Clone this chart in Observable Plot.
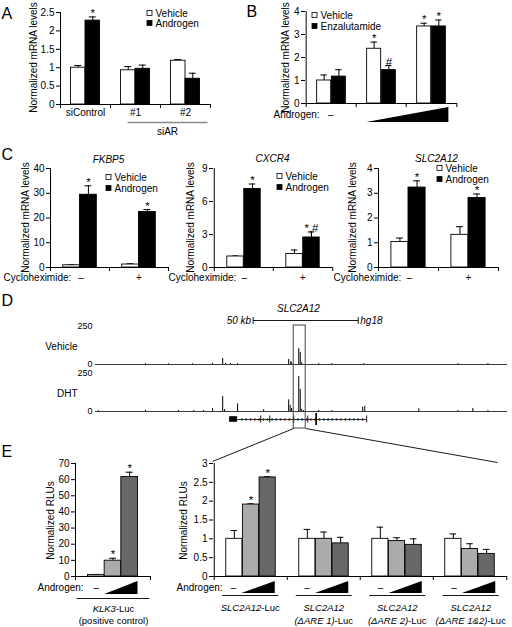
<!DOCTYPE html>
<html><head><meta charset="utf-8">
<script src="https://cdn.jsdelivr.net/npm/d3@7"></script>
<script src="https://cdn.jsdelivr.net/npm/@observablehq/plot@0.6"></script>
<style>
html,body{margin:0;padding:0;background:#fff;}
#fig{position:relative;width:512px;height:627px;overflow:hidden;background:#fff;}
#fig svg{position:absolute;left:0;top:0;}
</style></head><body><div id="fig"></div>
<script>
const FONT = '"Liberation Sans", Arial, Helvetica, sans-serif';
const W = 512, H = 627;

// ---------------- Panel A ----------------
const aGroups = ["siControl", "#1", "#2"];
const aVehicle = [1.0, 0.93, 1.19];
const aVehicleErr = [0.06, 0.1, 0.03];
const aAndrogen = [2.28, 0.97, 0.7];
const aAndrogenErr = [0.1, 0.1, 0.15];
const aAndrogenSig = ["*", "", ""];
const aTicks = [0, 0.5, 1, 1.5, 2, 2.5];

// ---------------- Panel B ----------------
const bGroups = ["none", "low", "high"];
const bVehicle = [1.0, 2.38, 3.35];
const bVehicleErr = [0.24, 0.29, 0.14];
const bVehicleSig = ["", "*", "*"];
const bEnza = [1.17, 1.45, 3.35];
const bEnzaErr = [0.3, 0.2, 0.28];
const bEnzaSig = ["", "#", "*"];
const bTicks = [0, 1, 2, 3, 4];

// ---------------- Panel C ----------------
const cGroups = ["–", "+"];
const fkbp5Vehicle = [0.9, 1.2];
const fkbp5VehicleErr = [0.2, 0.3];
const fkbp5Androgen = [29.4, 22.4];
const fkbp5AndrogenErr = [3.6, 1.0];
const fkbp5Sig = ["*", "*"];
const fkbp5Ticks = [0, 10, 20, 30, 40];
const cxcr4Vehicle = [1.0, 1.23];
const cxcr4VehicleErr = [0.05, 0.36];
const cxcr4Androgen = [7.14, 2.73];
const cxcr4AndrogenErr = [0.45, 0.5];
const cxcr4Sig = ["*", "*,#"];
const cxcr4Ticks = [0, 3, 6, 9];
const slcVehicle = [1.03, 1.32];
const slcVehicleErr = [0.16, 0.33];
const slcAndrogen = [3.23, 2.81];
const slcAndrogenErr = [0.27, 0.16];
const slcSig = ["*", "*"];
const slcTicks = [0, 1, 2, 3, 4];

// ---------------- Panel D ----------------
const kbDomain = [0, 196];
const vehPeakPos = [23.8, 34.8, 46.2, 55.7, 60.5, 61.9, 64.3, 67.6, 91.9, 92.9, 93.3, 96.7, 97.4, 98.1, 106.2, 112.4, 127.6, 172.4, 186.7];
const vehPeakH   = [6, 5, 5, 8, 40, 8, 6, 6, 33, 20, 10, 105, 80, 12, 6, 6, 6, 6, 6];
const dhtPeakPos = [1.4, 23.8, 39.5, 46.7, 51.4, 55.7, 60.5, 61.4, 67.6, 80.0, 91.9, 92.6, 93.3, 96.7, 97.4, 98.1, 99.0, 106.2, 112.4, 127.1, 128.1, 153.8, 172.4, 179.5, 186.7];
const dhtPeakH   = [5, 8, 6, 6, 6, 18, 98, 12, 50, 12, 77, 40, 20, 230, 145, 14, 6, 6, 6, 28, 33, 18, 6, 20, 6];
const trackTicks = [0, 250];
const geneUTR = [63.8, 67.6];
const geneSpan = [67.6, 129.0];
const geneExons = [78.6, 82.9, 94.3, 101.0, 129.0];
const geneCodingExon = [104.8, 105.6];
const highlightKb = [94.3, 100.0];
const scaleBarKb = [75, 125];

// ---------------- Panel E ----------------
const klk3Values = [1.0, 9.8, 61.6];
const klk3Err = [0.2, 1.5, 3.0];
const klk3Sig = ["", "*", "*"];
const eLeftTicks = [0, 10, 20, 30, 40, 50, 60, 70];
const constructs = ["SLC2A12-Luc", "dARE1", "dARE2", "dARE12"];
const dose0 = [1.0, 1.0, 1.0, 1.0];
const dose0Err = [0.22, 0.25, 0.31, 0.13];
const dose1 = [1.91, 1.0, 0.94, 0.73];
const dose1Err = [0.02, 0.18, 0.09, 0.14];
const dose2 = [2.63, 0.88, 0.84, 0.6];
const dose2Err = [0.02, 0.16, 0.16, 0.12];
const dose1Sig = ["*", "", "", ""];
const dose2Sig = ["*", "", "", ""];
const eRightTicks = [0, 0.5, 1, 1.5, 2, 2.5, 3];

// ---------------- helpers ----------------
const fig = document.getElementById("fig");
const baseStyle = {fontFamily: FONT, fontSize: "10px", background: "transparent", color: "black", overflow: "visible"};

function barPanel(L, groups, series, yDomain, yTicks, groupLabels = false) {
  const {x0, x1, yTop, yBottom, p} = L;
  const n = groups.length, ns = series.length;
  const step = (x1 - x0) / n;
  const slot = step * p / ns;
  const start = step * (0.5 - p / 2);
  const upp = (yDomain[1] - yDomain[0]) / (yBottom - yTop);
  const marks = [];
  series.forEach((s, i) => {
    const rows = groups.map((g, j) => ({group: g, value: s.values[j], top: s.values[j] + s.errs[j], mark: s.sig ? s.sig[j] : ""}));
    const left = start + i * slot, right = start + (i + 1) * slot, c = (left + right) / 2;
    marks.push(Plot.ruleX(rows, {x: "group", y1: "value", y2: "top", dx: c - step / 2, stroke: "black", strokeWidth: 1}));
    marks.push(Plot.tickY(rows, {x: "group", y: "top", insetLeft: c - 3.5, insetRight: step - c - 3.5, stroke: "black", strokeWidth: 1}));
    marks.push(Plot.barY(rows, {x: "group", y: "value", fill: s.fill, stroke: "black", strokeWidth: 0.9, insetLeft: left, insetRight: step - right}));
    const sig = rows.filter(r => r.mark);
    if (sig.length) marks.push(Plot.text(sig, {x: "group", y: "top", text: "mark", dx: c - step / 2, dy: 0, lineAnchor: "bottom", fontSize: 11.5, fill: "black"}));
  });
  marks.push(Plot.ruleY([yDomain[0]], {stroke: "black"}));
  marks.push(Plot.ruleX([groups[0]], {dx: -step / 2, stroke: "black"}));
  marks.push(Plot.ruleX(groups, {x: d => d, dx: -step / 2, y1: yDomain[0], y2: yDomain[0] - 4 * upp, stroke: "black"}));
  marks.push(Plot.ruleX([groups[n - 1]], {dx: step / 2, y1: yDomain[0], y2: yDomain[0] - 4 * upp, stroke: "black"}));
  fig.appendChild(Plot.plot({
    width: W, height: H, marginLeft: x0, marginRight: W - x1, marginTop: yTop, marginBottom: H - yBottom,
    style: baseStyle,
    x: {type: "band", domain: groups, padding: 0, axis: groupLabels ? "bottom" : null, tickSize: 0, tickPadding: 4, label: null},
    y: {domain: yDomain, ticks: yTicks, tickSize: 4, tickPadding: 2, tickFormat: d => String(d), label: null},
    marks
  }));
  return {
    center: j => x0 + step * j + step / 2,
    barLeft: (j, i) => x0 + step * j + start + i * slot,
    barRight: (j, i) => x0 + step * j + start + (i + 1) * slot,
    barCenter: (j, i) => x0 + step * j + start + (i + 0.5) * slot
  };
}

// ---------------- layouts ----------------
const LA = {x0: 60, x1: 210, yTop: 12, yBottom: 104, p: 0.58};
const LB = {x0: 305, x1: 457, yTop: 11, yBottom: 103, p: 0.58};
const LC1 = {x0: 50, x1: 168, yTop: 168, yBottom: 267, p: 0.57};
const LC2 = {x0: 213, x1: 332, yTop: 168, yBottom: 267, p: 0.57};
const LC3 = {x0: 378, x1: 498, yTop: 168, yBottom: 267, p: 0.57};
const LEL = {x0: 75, x1: 150, yTop: 463, yBottom: 576, p: 0.667};
const LER = {x0: 213, x1: 507, yTop: 463, yBottom: 576, p: 0.68};
const trackX0 = 95, trackX1 = 507;
const kb = d3.scaleLinear().domain(kbDomain).range([trackX0, trackX1]);

const gA = barPanel(LA, aGroups, [
  {values: aVehicle, errs: aVehicleErr, fill: "white"},
  {values: aAndrogen, errs: aAndrogenErr, fill: "black", sig: aAndrogenSig}
], [0, 2.5], aTicks, true);
const gB = barPanel(LB, bGroups, [
  {values: bVehicle, errs: bVehicleErr, fill: "white", sig: bVehicleSig},
  {values: bEnza, errs: bEnzaErr, fill: "black", sig: bEnzaSig}
], [0, 4], bTicks);
const gC1 = barPanel(LC1, cGroups, [
  {values: fkbp5Vehicle, errs: fkbp5VehicleErr, fill: "white"},
  {values: fkbp5Androgen, errs: fkbp5AndrogenErr, fill: "black", sig: fkbp5Sig}
], [0, 40], fkbp5Ticks);
const gC2 = barPanel(LC2, cGroups, [
  {values: cxcr4Vehicle, errs: cxcr4VehicleErr, fill: "white"},
  {values: cxcr4Androgen, errs: cxcr4AndrogenErr, fill: "black", sig: cxcr4Sig}
], [0, 9], cxcr4Ticks);
const gC3 = barPanel(LC3, cGroups, [
  {values: slcVehicle, errs: slcVehicleErr, fill: "white"},
  {values: slcAndrogen, errs: slcAndrogenErr, fill: "black", sig: slcSig}
], [0, 4], slcTicks);
const gEL = barPanel(LEL, ["KLK3"], [
  {values: [klk3Values[0]], errs: [klk3Err[0]], fill: "white", sig: [klk3Sig[0]]},
  {values: [klk3Values[1]], errs: [klk3Err[1]], fill: "#ababab", sig: [klk3Sig[1]]},
  {values: [klk3Values[2]], errs: [klk3Err[2]], fill: "#686868", sig: [klk3Sig[2]]}
], [0, 70], eLeftTicks);
const gER = barPanel(LER, constructs, [
  {values: dose0, errs: dose0Err, fill: "white"},
  {values: dose1, errs: dose1Err, fill: "#ababab", sig: dose1Sig},
  {values: dose2, errs: dose2Err, fill: "#686868", sig: dose2Sig}
], [0, 3], eRightTicks);

// ---------------- Panel D tracks ----------------
function track(pos, h, yTop, yBottom) {
  const peaks = pos.map((x, i) => ({pos: x, h: h[i]}));
  fig.appendChild(Plot.plot({
    width: W, height: H, marginLeft: trackX0, marginRight: W - trackX1, marginTop: yTop, marginBottom: H - yBottom,
    style: {...baseStyle, fontSize: "9px"},
    x: {domain: kbDomain, axis: null},
    y: {domain: [0, 250], ticks: trackTicks, tickSize: 0, tickPadding: 3, label: null},
    marks: [
      Plot.ruleY([0], {stroke: "#222", strokeWidth: 0.9}),
      Plot.ruleX(peaks, {x: "pos", y1: 0, y2: "h", stroke: "black", strokeWidth: 1})
    ]
  }));
}
track(vehPeakPos, vehPeakH, 326, 364);
track(dhtPeakPos, dhtPeakH, 373, 411);

const chevrons = d3.range(69.5, 128.5, 2.05);
fig.appendChild(Plot.plot({
  width: W, height: H, marginLeft: trackX0, marginRight: W - trackX1, marginTop: 414, marginBottom: H - 424,
  style: baseStyle,
  x: {domain: kbDomain, axis: null},
  y: {domain: [0, 1], axis: null},
  marks: [
    Plot.ruleY([0.5], {x1: geneSpan[0], x2: geneSpan[1], stroke: "black", strokeWidth: 0.8}),
    Plot.text(chevrons, {x: d => d, y: 0.5, text: () => "‹", fontSize: 8, fill: "black"}),
    Plot.rect([geneUTR], {x1: d => d[0], x2: d => d[1], y1: 0.22, y2: 0.78, fill: "black"}),
    Plot.ruleX(geneExons, {x: d => d, y1: 0.15, y2: 0.85, stroke: "black", strokeWidth: 0.9}),
    Plot.rect([geneCodingExon], {x1: d => d[0], x2: d => d[1], y1: -0.1, y2: 1.1, fill: "black"})
  ]
}));

// ---------------- Overlay: labels & decorations ----------------
const ctx = document.createElement("canvas").getContext("2d");
function textWidth(s, size, italic) { ctx.font = `${italic ? "italic " : ""}${size}px "Liberation Sans"`; return ctx.measureText(s).width; }
const T = [];
function t(x, y, text, o = {}) { T.push({x, y, text, size: o.size ?? 10, anchor: o.anchor ?? "start", italic: !!o.italic, rotate: o.rotate ?? 0}); }
function mixed(cx, y, parts, size) {
  const ws = parts.map(([s, it]) => textWidth(s, size, it));
  let x = cx - d3.sum(ws) / 2;
  parts.forEach(([s, it], i) => { t(x, y, s, {size, italic: it}); x += ws[i]; });
}
const rects = [], links = [], grayLinks = [], tris = [];
function legend(x, ys, labels, fills) {
  ys.forEach((y, i) => {
    rects.push({x1: x, x2: x + 5, y1: y - 2.5, y2: y + 2.5, fill: fills[i]});
    t(x + 8, y, labels[i]);
  });
}
function tri(id, xl, xr, yb, yt) { tris.push({id, x: xl, yb, yt: yb}, {id, x: xr, yb, yt}); }

// panel letters
t(1, 13, "A", {size: 16}); t(246, 11, "B", {size: 16}); t(1, 154, "C", {size: 16});
t(1, 300, "D", {size: 16}); t(1, 451, "E", {size: 16});

// y titles
const mrna = "Normalized mRNA levels";
t(33, 57, mrna, {anchor: "middle", rotate: -90});
t(285, 57, mrna, {anchor: "middle", rotate: -90});
t(25, 217, mrna, {anchor: "middle", rotate: -90});
t(190, 217, mrna, {anchor: "middle", rotate: -90});
t(352, 217, mrna, {anchor: "middle", rotate: -90});
t(50, 520, "Normalized RLUs", {anchor: "middle", rotate: -90});
t(183, 520, "Normalized RLUs", {anchor: "middle", rotate: -90});

// legends
legend(147, [13, 23], ["Vehicle", "Androgen"], ["white", "black"]);
legend(312, [15, 26], ["Vehicle", "Enzalutamide"], ["white", "black"]);
legend(106, [177, 188], ["Vehicle", "Androgen"], ["white", "black"]);
legend(277, [176, 187], ["Vehicle", "Androgen"], ["white", "black"]);
legend(437, [168, 179], ["Vehicle", "Androgen"], ["white", "black"]);

// panel A siAR
grayLinks.push({x1: 127, y1: 122, x2: 207, y2: 122});
t(167, 131, "siAR", {anchor: "middle"});

// panel B androgen
t(273, 114, "Androgen:", {size: 10});
t(gB.center(0), 114, "–", {anchor: "middle"});
tri("B", gB.barLeft(1, 0), gB.barRight(2, 1) + 2, 122, 107);

// panel C
t(108, 159, "FKBP5", {anchor: "middle", italic: true});
t(272, 158, "CXCR4", {anchor: "middle", italic: true});
t(436, 158, "SLC2A12", {anchor: "middle", italic: true});
[[3, gC1], [168, gC2], [333, gC3]].forEach(([x, g]) => {
  t(x, 277, "Cycloheximide:", {size: 10});
  t(g.center(0) + 1, 277, "–", {anchor: "middle"});
  t(g.center(1), 277, "+", {anchor: "middle"});
});

// panel D
t(298, 308, "SLC2A12", {anchor: "middle", italic: true});
t(kb(scaleBarKb[0]) - 2, 320, "50 kb", {anchor: "end", italic: true});
t(kb(scaleBarKb[1]) + 2, 320, "hg18", {italic: true});
links.push({x1: kb(scaleBarKb[0]), y1: 320, x2: kb(scaleBarKb[1]), y2: 320});
links.push({x1: kb(scaleBarKb[0]), y1: 316.5, x2: kb(scaleBarKb[0]), y2: 323.5});
links.push({x1: kb(scaleBarKb[1]), y1: 316.5, x2: kb(scaleBarKb[1]), y2: 323.5});
t(77, 346, "Vehicle", {anchor: "end"});
t(77, 393, "DHT", {anchor: "end"});
const boxL = kb(highlightKb[0]), boxR = kb(highlightKb[1]);
const hiBox = [{x1: boxL, x2: boxR, y1: 325, y2: 428}];
links.push({x1: boxL, y1: 428, x2: 212, y2: 461});
links.push({x1: boxR, y1: 428, x2: 497, y2: 462});

// panel E left
t(37, 587, "Androgen:", {size: 10});
t(gEL.barCenter(0, 0), 587, "–", {anchor: "middle"});
tri("EL", gEL.barLeft(0, 1), gEL.barRight(0, 2), 594, 581);
links.push({x1: 76, y1: 598, x2: 149, y2: 598});
mixed(113, 608, [["KLK3", true], ["-Luc", false]], 9.5);
t(113, 620, "(positive control)", {anchor: "middle", size: 9.5});

// panel E right
t(176, 587, "Androgen:", {size: 10});
const eLine2 = ["", "(ΔARE 1)", "(ΔARE 2)", "(ΔARE 1&2)"];
constructs.forEach((c, j) => {
  t(gER.barCenter(j, 0), 587, "–", {anchor: "middle"});
  tri("ER" + j, gER.barLeft(j, 1), gER.barRight(j, 2), 593, 581);
  const cx = gER.center(j);
  links.push({x1: cx - 28, y1: 595, x2: cx + 28, y2: 595});
  if (j === 0) mixed(cx, 607, [["SLC2A12", true], ["-Luc", false]], 9.5);
  else {
    t(cx, 607, "SLC2A12", {anchor: "middle", italic: true, size: 9.5});
    mixed(cx, 620, [[eLine2[j], true], ["-Luc", false]], 9.5);
  }
});

const overlayMarks = [
  Plot.rect(hiBox, {x1: "x1", x2: "x2", y1: "y1", y2: "y2", fill: "none", stroke: "#444", strokeWidth: 1}),
  Plot.link(links, {x1: "x1", y1: "y1", x2: "x2", y2: "y2", stroke: "black", strokeWidth: 0.9}),
  Plot.link(grayLinks, {x1: "x1", y1: "y1", x2: "x2", y2: "y2", stroke: "#8a8a8a", strokeWidth: 1.3}),
  Plot.areaY(tris, {x: "x", y1: "yb", y2: "yt", z: "id", fill: "black", curve: "linear"}),
  ...rects.map(r => Plot.rect([r], {x1: "x1", x2: "x2", y1: "y1", y2: "y2", fill: r.fill, stroke: "black", strokeWidth: 0.8})),
  ...T.map(d => Plot.text([d], {x: "x", y: "y", text: "text", fontSize: d.size, textAnchor: d.anchor,
    fontStyle: d.italic ? "italic" : "normal", rotate: d.rotate, fill: "black"}))
];
fig.appendChild(Plot.plot({
  width: W, height: H, margin: 0, style: baseStyle,
  x: {domain: [0, W], range: [0, W], axis: null},
  y: {domain: [0, H], range: [0, H], axis: null},
  marks: overlayMarks
}));
</script></body></html>
